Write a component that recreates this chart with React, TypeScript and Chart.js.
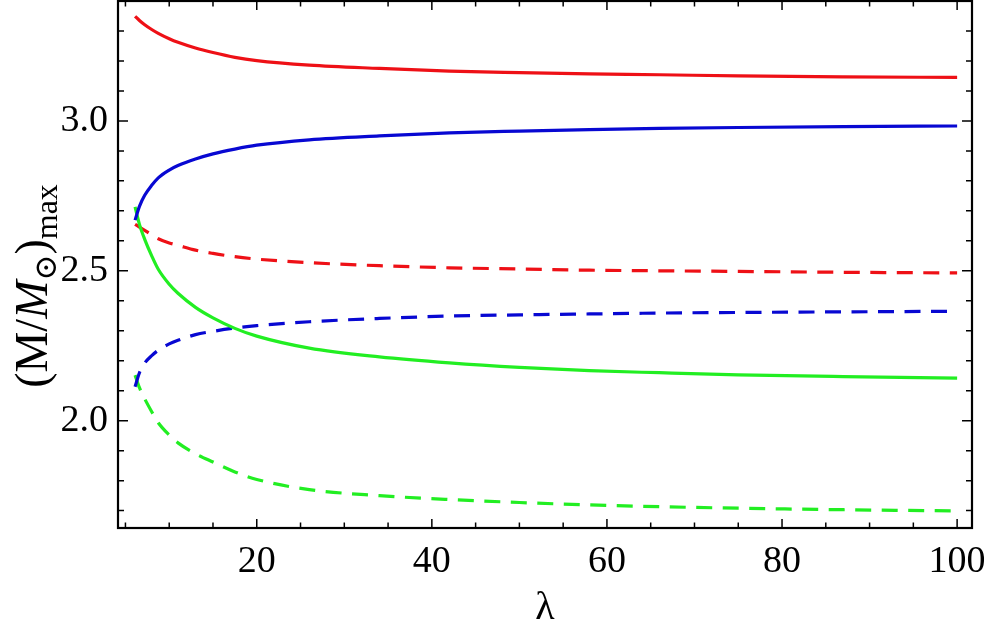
import React, { useRef, useEffect } from "react";
import { Chart, registerables, ChartConfiguration, Plugin } from "chart.js";

Chart.register(...registerables);

// lambda values the curves were read at
const lambda = [6.1, 6.6, 7.2, 8, 8.75, 10, 11, 13, 15, 17.5, 20, 26, 34, 42, 50, 58, 66, 75, 87, 100];

// solid curves
const redSolid = [3.349, 3.335, 3.321, 3.305, 3.292, 3.274, 3.262, 3.243, 3.228, 3.212, 3.201, 3.186, 3.175, 3.166, 3.161, 3.157, 3.154, 3.15, 3.147, 3.145];
const blueSolid = [2.669, 2.715, 2.752, 2.785, 2.81, 2.836, 2.851, 2.873, 2.89, 2.906, 2.919, 2.937, 2.95, 2.96, 2.966, 2.971, 2.975, 2.978, 2.981, 2.983];
const greenSolid = [2.713, 2.655, 2.605, 2.55, 2.505, 2.455, 2.425, 2.378, 2.343, 2.308, 2.282, 2.242, 2.213, 2.193, 2.178, 2.167, 2.16, 2.153, 2.147, 2.142];

// dashed curves
const redDashed = [2.655, 2.646, 2.635, 2.62, 2.607, 2.593, 2.585, 2.569, 2.558, 2.547, 2.539, 2.527, 2.517, 2.51, 2.506, 2.502, 2.5, 2.498, 2.495, 2.493];
const blueDashed = [2.113, 2.16, 2.192, 2.217, 2.235, 2.256, 2.268, 2.287, 2.298, 2.309, 2.317, 2.33, 2.341, 2.349, 2.353, 2.356, 2.359, 2.361, 2.363, 2.365];
const greenDashed = [2.152, 2.11, 2.073, 2.03, 1.993, 1.952, 1.926, 1.89, 1.862, 1.829, 1.804, 1.77, 1.75, 1.737, 1.727, 1.719, 1.713, 1.708, 1.703, 1.699];

const xMajorTicks = [20, 40, 60, 80, 100];
const yMajorTicks = [2.0, 2.5, 3.0];

const X_MIN = 4.15;
const X_MAX = 101.7;
const Y_MIN = 1.642;
const Y_MAX = 3.4;

const RED = "rgb(238, 16, 22)";
const BLUE = "rgb(8, 8, 210)";
const GREEN = "rgb(34, 238, 34)";
const FONT = '"Liberation Serif", "Times New Roman", "DejaVu Serif", serif';

const xTickValues: number[] = [];
for (let v = 5; v <= 100; v += 5) xTickValues.push(v);
const yTickValues: number[] = [];
for (let i = 17; i <= 33; i++) yTickValues.push(i / 10);

const isMajor = (list: number[], v: number) => list.some((m) => Math.abs(m - v) < 1e-6);

const toPoints = (ys: number[]) => lambda.map((x, i) => ({ x, y: ys[i] }));

const line = (label: string, ys: number[], color: string, dashed: boolean) => ({
  label,
  data: toPoints(ys),
  borderColor: color,
  backgroundColor: color,
  borderWidth: 3.2,
  borderDash: dashed ? [16, 10.5] : [],
  borderCapStyle: "butt" as const,
  pointRadius: 0,
  cubicInterpolationMode: "monotone" as const,
  fill: false,
});

// frame, inward ticks on all four sides, and the y title with subscripts
const framePlugin: Plugin<"line"> = {
  id: "frame",
  afterDraw(chart) {
    const { ctx, chartArea: a, scales } = chart;
    const xs = scales.x;
    const ys = scales.y;
    ctx.save();
    ctx.strokeStyle = "#000";
    ctx.lineWidth = 1.5;
    ctx.beginPath();
    xTickValues.forEach((v) => {
      const px = xs.getPixelForValue(v);
      const len = isMajor(xMajorTicks, v) ? 9 : 5.5;
      ctx.moveTo(px, a.bottom);
      ctx.lineTo(px, a.bottom - len);
      ctx.moveTo(px, a.top);
      ctx.lineTo(px, a.top + len);
    });
    yTickValues.forEach((v) => {
      const py = ys.getPixelForValue(v);
      const len = isMajor(yMajorTicks, v) ? 10 : 6;
      ctx.moveTo(a.left, py);
      ctx.lineTo(a.left + len, py);
      ctx.moveTo(a.right, py);
      ctx.lineTo(a.right - len, py);
    });
    ctx.stroke();
    ctx.lineWidth = 2.2;
    ctx.strokeRect(a.left, a.top, a.right - a.left, a.bottom - a.top);

    // y title: (M/M_⊙)_max
    const parts = [
      { t: "(M/", f: `46px ${FONT}`, dy: 0 },
      { t: "M", f: `italic 46px ${FONT}`, dy: 0 },
      { t: "⊙", f: `31px ${FONT}`, dy: 9 },
      { t: ")", f: `46px ${FONT}`, dy: 0 },
      { t: "max", f: `32px ${FONT}`, dy: 10 },
    ];
    let total = 0;
    parts.forEach((p) => {
      ctx.font = p.f;
      total += ctx.measureText(p.t).width;
    });
    const centerY = 286;
    ctx.translate(47, centerY + total / 2);
    ctx.rotate(-Math.PI / 2);
    ctx.fillStyle = "#000";
    ctx.textBaseline = "alphabetic";
    let x = 0;
    parts.forEach((p) => {
      ctx.font = p.f;
      ctx.fillText(p.t, x, p.dy);
      x += ctx.measureText(p.t).width;
    });
    ctx.restore();
  },
};

const MassChart = () => {
  const canvasRef = useRef<HTMLCanvasElement | null>(null);
  const chartRef = useRef<Chart | null>(null);

  useEffect(() => {
    if (!canvasRef.current) return;
    const ctx = canvasRef.current.getContext("2d");
    if (!ctx) return;
    if (chartRef.current) chartRef.current.destroy();

    const config: ChartConfiguration<"line"> = {
      type: "line",
      data: {
        datasets: [
          line("red solid", redSolid, RED, false),
          line("blue solid", blueSolid, BLUE, false),
          line("green solid", greenSolid, GREEN, false),
          line("red dashed", redDashed, RED, true),
          line("blue dashed", blueDashed, BLUE, true),
          line("green dashed", greenDashed, GREEN, true),
        ],
      },
      options: {
        animation: false,
        responsive: true,
        maintainAspectRatio: false,
        layout: { padding: { left: 0, top: 1, right: 12, bottom: 0 } },
        plugins: {
          legend: { display: false },
          tooltip: { enabled: false },
        },
        scales: {
          x: {
            type: "linear",
            min: X_MIN,
            max: X_MAX,
            grid: { display: false, drawTicks: false },
            border: { display: false },
            afterBuildTicks: (scale) => {
              scale.ticks = xTickValues.map((value) => ({ value }));
            },
            afterFit: (scale) => {
              scale.height = 109;
              scale.paddingLeft = 0;
              scale.paddingRight = 0;
            },
            ticks: {
              autoSkip: false,
              maxRotation: 0,
              padding: 11,
              color: "#000",
              font: { family: FONT, size: 38 },
              callback: (value) => (isMajor(xMajorTicks, Number(value)) ? String(value) : ""),
            },
            title: {
              display: true,
              text: "λ",
              color: "#000",
              font: { family: FONT, size: 40 },
              padding: { top: 0, bottom: 5 },
            },
          },
          y: {
            type: "linear",
            min: Y_MIN,
            max: Y_MAX,
            grid: { display: false, drawTicks: false },
            border: { display: false },
            afterBuildTicks: (scale) => {
              scale.ticks = yTickValues.map((value) => ({ value }));
            },
            afterFit: (scale) => {
              scale.width = 118;
              scale.paddingTop = 0;
              scale.paddingBottom = 0;
            },
            ticks: {
              autoSkip: false,
              padding: 10,
              color: "#000",
              font: { family: FONT, size: 38 },
              callback: (value) =>
                isMajor(yMajorTicks, Number(value)) ? Number(value).toFixed(1) : "",
            },
          },
        },
      },
      plugins: [framePlugin],
    };

    chartRef.current = new Chart(ctx, config);

    return () => {
      if (chartRef.current) {
        chartRef.current.destroy();
        chartRef.current = null;
      }
    };
  }, []);

  return <canvas ref={canvasRef}></canvas>;
};

export default function App() {
  return (
    <div style={{ position: "absolute", left: 0, top: 0, width: 984, height: 637, background: "#fff" }}>
      <MassChart />
    </div>
  );
}
